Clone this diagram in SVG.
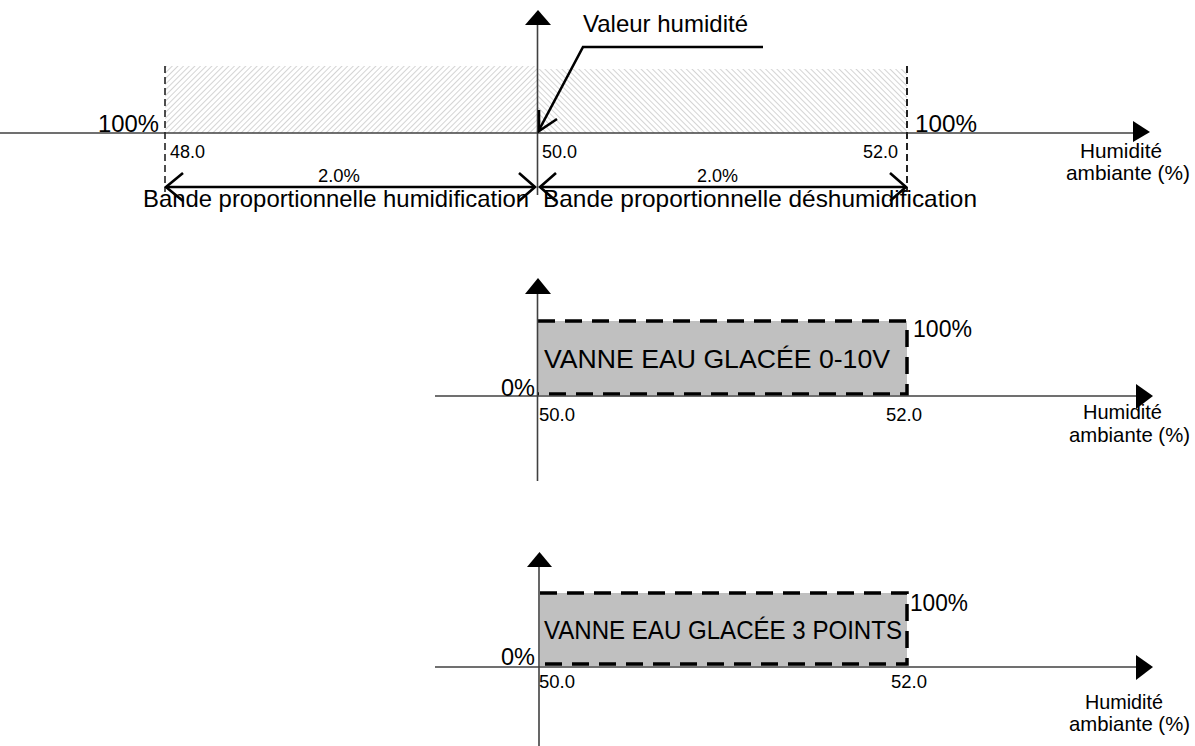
<svg xmlns="http://www.w3.org/2000/svg" width="1195" height="746" viewBox="0 0 1195 746">
<defs>
<pattern id="hatchL" patternUnits="userSpaceOnUse" width="4" height="4" patternTransform="rotate(45)">
<rect width="4" height="4" fill="#ffffff"/>
<line x1="0" y1="0" x2="0" y2="4" stroke="#bdbdbd" stroke-width="1.3"/>
</pattern>
<pattern id="hatchR" patternUnits="userSpaceOnUse" width="4" height="4" patternTransform="rotate(-45)">
<rect width="4" height="4" fill="#ffffff"/>
<line x1="0" y1="0" x2="0" y2="4" stroke="#bdbdbd" stroke-width="1.3"/>
</pattern>
</defs>
<style>
text{font-family:"Liberation Sans",Arial,sans-serif;fill:#000}
.big{font-size:24px}
.sm{font-size:18px}
.ax-l{font-size:21px}
.ax{stroke:#404040;stroke-width:1.6;fill:none}
.head{fill:#000;stroke:none}
.dash{stroke:#222;stroke-width:1.6;stroke-dasharray:7 4;fill:none}
.arr{stroke:#000;stroke-width:2.6;fill:none}
.box{fill:#c0c0c0;stroke:none}
.boxd{stroke:#000;stroke-width:3.5;stroke-dasharray:17 10;fill:none}
.vl{font-size:26px}
</style>
<rect width="1195" height="746" fill="#ffffff"/>

<g id="chart-top">
<rect x="165" y="66" width="372" height="67" fill="url(#hatchL)"/>
<rect x="538" y="69" width="369" height="64" fill="url(#hatchR)"/>
<line class="ax" x1="0" y1="133" x2="1136" y2="133"/>
<polygon class="head" points="1133,121 1150,132 1133,142"/>
<line class="ax" x1="537.5" y1="22" x2="537.5" y2="195"/>
<polygon class="head" points="525,25 538,10 551,25"/>
<line class="dash" x1="165" y1="66" x2="165" y2="192"/>
<line class="dash" x1="907" y1="66" x2="907" y2="192" style="stroke-width:2"/>
<text class="big" x="98" y="132" textLength="61" lengthAdjust="spacingAndGlyphs">100%</text>
<text class="big" x="915" y="132" textLength="62" lengthAdjust="spacingAndGlyphs">100%</text>
<text class="sm" x="170" y="158" textLength="35" lengthAdjust="spacingAndGlyphs">48.0</text>
<text class="sm" x="542" y="158" textLength="35" lengthAdjust="spacingAndGlyphs">50.0</text>
<text class="sm" x="863" y="158" textLength="35" lengthAdjust="spacingAndGlyphs">52.0</text>
<text class="sm" x="318" y="182" textLength="42" lengthAdjust="spacingAndGlyphs">2.0%</text>
<text class="sm" x="697" y="182" textLength="41" lengthAdjust="spacingAndGlyphs">2.0%</text>
<text class="big" x="143" y="207" textLength="386" lengthAdjust="spacingAndGlyphs">Bande proportionnelle humidification</text>
<text class="big" x="543" y="207" textLength="434" lengthAdjust="spacingAndGlyphs">Bande proportionnelle déshumidification</text>
<text class="big" x="583" y="32" textLength="165" lengthAdjust="spacingAndGlyphs">Valeur humidité</text>
<text class="ax-l" x="1080" y="158" textLength="82" lengthAdjust="spacingAndGlyphs">Humidité</text>
<text class="ax-l" x="1066" y="180" textLength="124" lengthAdjust="spacingAndGlyphs">ambiante (%)</text>
</g>

<g id="connectors">
<line class="arr" x1="166" y1="187" x2="535" y2="187"/>
<polyline class="arr" points="183,173 166,187 183,201"/>
<polyline class="arr" points="519,173 535,187 519,201"/>
<line class="arr" x1="540" y1="187" x2="906" y2="187"/>
<polyline class="arr" points="556,173 540,187 556,201"/>
<polyline class="arr" points="890,173 906,187 890,201"/>
<polyline class="arr" points="763,47 583,47 539,130"/>
<polyline class="arr" points="557,119 539,131 539,110"/>
</g>

<g id="chart-mid">
<rect class="box" x="538" y="321" width="369" height="74"/>
<path class="boxd" d="M538,321 H907 V394 H538"/>
<line class="ax" x1="435" y1="396" x2="1137" y2="396"/>
<polygon class="head" points="1136,384 1153,396 1136,409"/>
<line class="ax" x1="537.5" y1="292" x2="537.5" y2="481"/>
<polygon class="head" points="525,294 538,278 551,294"/>
<text class="vl" x="544" y="368" textLength="346" lengthAdjust="spacingAndGlyphs">VANNE EAU GLACÉE 0-10V</text>
<text class="big" x="913" y="337" textLength="59" lengthAdjust="spacingAndGlyphs">100%</text>
<text class="big" x="501" y="396" textLength="34" lengthAdjust="spacingAndGlyphs">0%</text>
<text class="sm" x="539" y="421" textLength="36" lengthAdjust="spacingAndGlyphs">50.0</text>
<text class="sm" x="886" y="421" textLength="36" lengthAdjust="spacingAndGlyphs">52.0</text>
<text class="ax-l" x="1083" y="419" textLength="79" lengthAdjust="spacingAndGlyphs">Humidité</text>
<text class="ax-l" x="1069" y="442" textLength="121" lengthAdjust="spacingAndGlyphs">ambiante (%)</text>
</g>

<g id="chart-bot">
<rect class="box" x="540" y="593" width="367" height="73"/>
<path class="boxd" d="M540,593 H907 V664 H540"/>
<line class="ax" x1="435" y1="667" x2="1137" y2="667"/>
<polygon class="head" points="1136,655 1153,667 1136,680"/>
<line class="ax" x1="539" y1="565" x2="539" y2="746"/>
<polygon class="head" points="527,567 539.5,552 552,567"/>
<text class="vl" x="544" y="639" textLength="358" lengthAdjust="spacingAndGlyphs">VANNE EAU GLACÉE 3 POINTS</text>
<text class="big" x="910" y="611" textLength="58" lengthAdjust="spacingAndGlyphs">100%</text>
<text class="big" x="501" y="665" textLength="34" lengthAdjust="spacingAndGlyphs">0%</text>
<text class="sm" x="539" y="688" textLength="36" lengthAdjust="spacingAndGlyphs">50.0</text>
<text class="sm" x="891" y="688" textLength="36" lengthAdjust="spacingAndGlyphs">52.0</text>
<text class="ax-l" x="1085" y="709" textLength="78" lengthAdjust="spacingAndGlyphs">Humidité</text>
<text class="ax-l" x="1069" y="731" textLength="121" lengthAdjust="spacingAndGlyphs">ambiante (%)</text>
</g>
</svg>
